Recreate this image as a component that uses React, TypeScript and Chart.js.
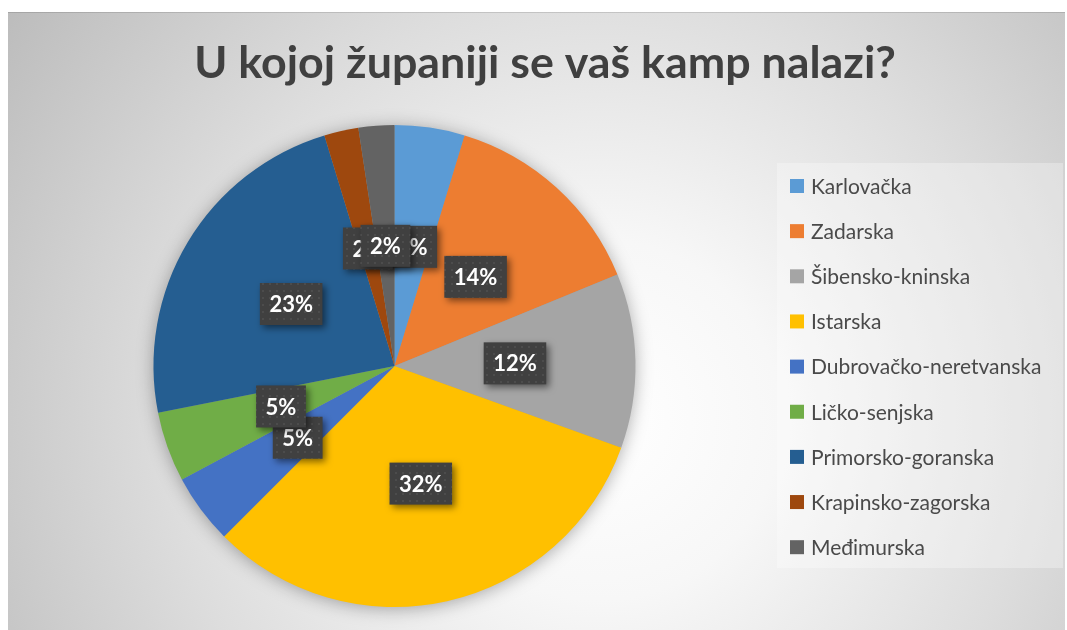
import React, { useEffect, useRef } from "react";
import { Chart, registerables } from "chart.js";

Chart.register(...registerables);

const TITLE = "U kojoj županiji se vaš kamp nalazi?";
const categories = [
  "Karlovačka",
  "Zadarska",
  "Šibensko-kninska",
  "Istarska",
  "Dubrovačko-neretvanska",
  "Ličko-senjska",
  "Primorsko-goranska",
  "Krapinsko-zagorska",
  "Međimurska",
];
// slice shares (%); labels round to 5,14,12,32,5,5,23,2,2
const shares = [4.7, 14.1, 11.7, 32.0, 4.7, 4.7, 23.4, 2.3, 2.4];
const sliceColors = [
  "#5B9BD5",
  "#ED7D31",
  "#A5A5A5",
  "#FFC000",
  "#4472C4",
  "#70AD47",
  "#255E91",
  "#9E480E",
  "#636363",
];

const W = 1067;
const H = 630;
const FONT = "Lato, 'Open Sans', 'DejaVu Sans', sans-serif";

function makeDotPattern(ctx: CanvasRenderingContext2D) {
  const c = document.createElement("canvas");
  c.width = 7;
  c.height = 7;
  const p = c.getContext("2d")!;
  p.fillStyle = "#404040";
  p.fillRect(0, 0, 7, 7);
  p.fillStyle = "#4c4c4c";
  p.fillRect(3, 3, 2, 2);
  return ctx.createPattern(c, "repeat") || "#404040";
}

const decorPlugin = {
  id: "decor",
  beforeDraw(chart: any) {
    const ctx: CanvasRenderingContext2D = chart.ctx;
    ctx.save();
    ctx.fillStyle = "#ffffff";
    ctx.fillRect(0, 0, W, H);
    const g = ctx.createRadialGradient(600, 420, 0, 600, 420, 720);
    g.addColorStop(0, "#ffffff");
    g.addColorStop(0.25, "#f7f7f7");
    g.addColorStop(0.6, "#dddddd");
    g.addColorStop(1, "#bcbcbc");
    ctx.fillStyle = g;
    ctx.fillRect(8, 12, 1057, H - 12);
    ctx.strokeStyle = "rgba(0,0,0,0.12)";
    ctx.lineWidth = 1;
    ctx.beginPath();
    ctx.moveTo(8, 12.5);
    ctx.lineTo(1065, 12.5);
    ctx.stroke();
    ctx.restore();
  },
  beforeDatasetsDraw(chart: any) {
    const ctx: CanvasRenderingContext2D = chart.ctx;
    const meta = chart.getDatasetMeta(0);
    const arc = meta.data[0];
    if (!arc) return;
    const { x, y, outerRadius } = arc.getProps(["x", "y", "outerRadius"], true);
    ctx.save();
    ctx.shadowColor = "rgba(0,0,0,0.35)";
    ctx.shadowBlur = 18;
    ctx.shadowOffsetY = 2;
    ctx.fillStyle = "#999999";
    ctx.beginPath();
    ctx.arc(x, y, outerRadius - 1, 0, Math.PI * 2);
    ctx.fill();
    ctx.restore();
  },
  afterDatasetsDraw(chart: any) {
    const ctx: CanvasRenderingContext2D = chart.ctx;
    const meta = chart.getDatasetMeta(0);
    const data: number[] = chart.data.datasets[0].data;
    const total = data.reduce((a, b) => a + b, 0);
    const pattern = makeDotPattern(ctx);
    ctx.save();
    ctx.font = `bold 22px ${FONT}`;
    meta.data.forEach((el: any, i: number) => {
      const { x, y, startAngle, endAngle, outerRadius } = el.getProps(
        ["x", "y", "startAngle", "endAngle", "outerRadius"],
        true
      );
      const mid = (startAngle + endAngle) / 2;
      const px = x + Math.cos(mid) * outerRadius * 0.5;
      const py = y + Math.sin(mid) * outerRadius * 0.5;
      const txt = Math.round((data[i] / total) * 100) + "%";
      const tw = ctx.measureText(txt).width;
      const bw = tw + 19;
      const bh = 42;
      ctx.save();
      ctx.shadowColor = "rgba(0,0,0,0.5)";
      ctx.shadowBlur = 7;
      ctx.shadowOffsetX = 3;
      ctx.shadowOffsetY = 3;
      ctx.fillStyle = pattern;
      ctx.fillRect(px - bw / 2, py - bh / 2, bw, bh);
      ctx.restore();
      ctx.fillStyle = "#ffffff";
      ctx.textAlign = "center";
      ctx.textBaseline = "middle";
      ctx.fillText(txt, px, py + 1);
    });
    ctx.restore();
  },
  afterDraw(chart: any) {
    const ctx: CanvasRenderingContext2D = chart.ctx;
    ctx.save();
    // title
    ctx.font = `bold 40px ${FONT}`;
    const tw40 = ctx.measureText(TITLE).width;
    const ts = (40 * 702) / tw40;
    ctx.font = `bold ${ts.toFixed(2)}px ${FONT}`;
    ctx.fillStyle = "#404040";
    ctx.textAlign = "center";
    ctx.textBaseline = "alphabetic";
    ctx.fillText(TITLE, 545, 78);

    // legend box
    ctx.fillStyle = "rgba(255,255,255,0.3)";
    ctx.fillRect(777, 163, 286, 405);

    const labels: string[] = chart.data.labels;
    const colors: string[] = chart.data.datasets[0].backgroundColor;
    ctx.font = `20px ${FONT}`;
    let maxW = 0;
    labels.forEach((l) => (maxW = Math.max(maxW, ctx.measureText(l).width)));
    const ls = Math.min(21, (20 * 242) / maxW);
    ctx.font = `${ls.toFixed(2)}px ${FONT}`;
    ctx.textAlign = "left";
    ctx.textBaseline = "middle";
    labels.forEach((l, i) => {
      const cy = 186 + i * 45.15;
      ctx.fillStyle = colors[i];
      ctx.fillRect(790, cy - 7, 14, 14);
      ctx.fillStyle = "#4a4a4a";
      ctx.fillText(l, 811, cy + 1);
    });
    ctx.restore();
  },
};

export default function App() {
  const ref = useRef<HTMLCanvasElement | null>(null);
  useEffect(() => {
    if (!ref.current) return;
    const chart = new Chart(ref.current, {
      type: "pie",
      data: {
        labels: categories,
        datasets: [
          {
            data: shares,
            backgroundColor: sliceColors,
            borderWidth: 0,
            hoverOffset: 0,
            offset: 0,
          },
        ],
      },
      options: {
        responsive: false,
        animation: false,
        devicePixelRatio: 1,
        layout: { padding: { left: 153.5, right: 431.5, top: 125, bottom: 23 } },
        plugins: {
          legend: { display: false },
          title: { display: false },
          tooltip: { enabled: false },
        },
      },
      plugins: [decorPlugin],
    });
    return () => chart.destroy();
  }, []);
  return (
    <div style={{ position: "fixed", left: 0, top: 0, width: W, height: H }}>
      <canvas ref={ref} width={W} height={H} style={{ display: "block" }} />
    </div>
  );
}
